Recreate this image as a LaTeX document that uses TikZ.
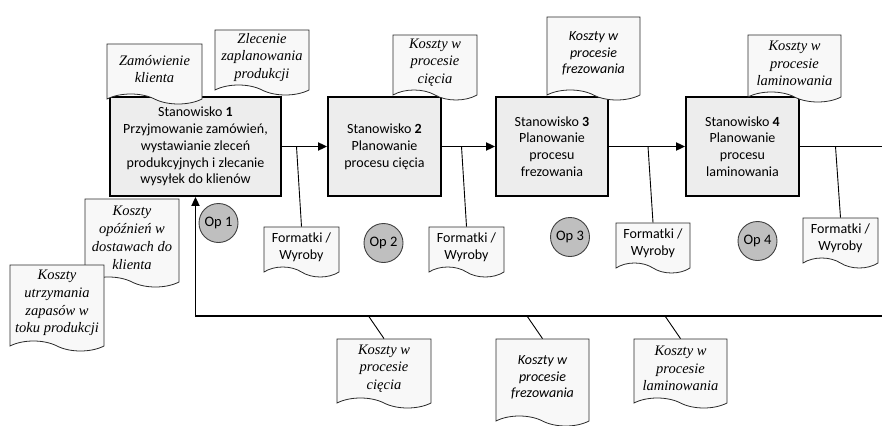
\documentclass[tikz,border=0pt]{standalone}
\usepackage{fontspec}
\setmainfont{Liberation Serif}
\newfontfamily\calfont{Carlito}
\usetikzlibrary{arrows.meta,positioning,shapes.symbols}
\definecolor{StFill}{HTML}{EDEDED}
\definecolor{DocFill}{HTML}{F8F8F8}
\definecolor{DocBorder}{HTML}{2A2A2A}
\definecolor{OpFill}{HTML}{BFBFBF}
\definecolor{OpBorder}{HTML}{404040}

\begin{document}
\begin{tikzpicture}[x=1pt,y=-1pt,
  stan/.style={draw,line width=1.8pt,fill=StFill,minimum width=113pt,
    minimum height=99pt,align=center,inner sep=2pt,
    font=\calfont\fontsize{14}{16.8}\selectfont},
  dok/.style={tape,tape bend top=none,tape bend bottom=out and in,
    tape bend height=10pt,draw=DocBorder,fill=DocFill,line width=0.8pt,
    minimum width=94pt,align=center,inner sep=1pt},
  tms/.style={font=\rmfamily\itshape\fontsize{14.5}{17.8}\selectfont},
  cal/.style={font=\calfont\fontsize{14}{16.8}\selectfont},
  calit/.style={font=\calfont\itshape\fontsize{14}{16.8}\selectfont},
  opc/.style={circle,draw=OpBorder,fill=OpFill,line width=0.9pt,
    minimum size=39pt,inner sep=0pt,font=\calfont\fontsize{14.5}{16.8}\selectfont},
  arr/.style={-{Triangle[length=9pt,width=8pt]},line width=1.8pt},
  ln/.style={line width=0.9pt}
]
\useasboundingbox (0,0) rectangle (882,425);
\clip (0,0) rectangle (882,425);
% stanowiska
\node[stan,minimum width=171pt] (st1) at (195.5,146.5)
  {Stanowisko \textbf{1}\\Przyjmowanie zamówień,\\wystawianie zleceń\\produkcyjnych i zlecanie\\wysyłek do klienów};
\node[stan] (st2) at (384.5,146.5) {Stanowisko \textbf{2}\\Planowanie\\procesu cięcia};
\node[stan,minimum width=112pt] (st3) at (552,146.5) {Stanowisko \textbf{3}\\Planowanie\\procesu\\frezowania};
\node[stan] (st4) at (742.5,146.5) {Stanowisko \textbf{4}\\Planowanie\\procesu\\laminowania};
\coordinate (re) at (882,146.5);
\coordinate (fbr) at (882,316);
% przeplyw
\draw[arr] (st1.east) -- (st2.west);
\draw[arr] (st2.east) -- (st3.west);
\draw[arr] (st3.east) -- (st4.west);
\draw[line width=1.8pt] (st4.east) -- (re);
\draw[arr] (fbr) -- (st1.south |- fbr) -- (st1.south);
% formatki / wyroby
\node[dok,cal,minimum width=75pt,minimum height=50pt] (fw1) at (301.5,247) {Formatki /\\Wyroby};
\node[dok,cal,minimum width=75pt,minimum height=50pt] (fw2) at (466.5,247) {Formatki /\\Wyroby};
\node[dok,cal,minimum width=74pt,minimum height=50pt] (fw3) at (653,243) {Formatki /\\Wyroby};
\node[dok,cal,minimum width=75pt,minimum height=50pt] (fw4) at (840.5,238) {Formatki /\\Wyroby};
\foreach \i in {1,...,4}{
  \coordinate (a\i) at ([xshift=-5pt]fw\i.north |- st1.east);
  \draw[ln] (a\i) -- (fw\i.north);
}
% dokumenty nad stanowiskami
\node[dok,tms,minimum width=95pt,minimum height=60pt] (zam) at (154.5,69) {Zamówienie\\klienta};
\node[dok,tms,minimum height=65pt] (zlec) at (262,57.5) {Zlecenie\\zaplanowania\\produkcji};
\node[dok,tms,minimum width=84pt,minimum height=65pt] (kc1) at (435,62.5) {Koszty w\\procesie\\cięcia};
\node[dok,calit,minimum width=93pt,minimum height=83pt] (kf1) at (593.5,53.5) {Koszty w\\procesie\\frezowania};
\node[dok,tms,minimum width=93pt,minimum height=67pt] (kl1) at (794.5,63.5) {Koszty w\\procesie\\laminowania};
% koszty po lewej
\node[dok,tms,minimum height=88pt] (opo) at (132,238) {Koszty\\opóźnień w\\dostawach do\\klienta};
\node[dok,tms,minimum height=86pt] (zap) at (57,303) {Koszty\\utrzymania\\zapasów w\\toku produkcji};
% koszty na dole
\node[dok,tms,minimum height=69pt] (kc2) at (384,368.5) {Koszty w\\procesie\\cięcia};
\node[dok,calit,minimum width=93pt,minimum height=87pt] (kf2) at (542.5,377.5) {Koszty w\\procesie\\frezowania};
\node[dok,tms,minimum width=93pt,minimum height=69pt] (kl2) at (680.5,368.5) {Koszty w\\procesie\\laminowania};
\foreach \n in {kc2,kf2,kl2}{
  \coordinate (b\n) at ([xshift=-15.5pt]\n.north |- fbr);
  \draw[ln] (b\n) -- (\n.north);
}
% operacje
\node[opc] (op1) at (218.5,223) {Op 1};
\node[opc] (op2) at (383.5,243) {Op 2};
\node[opc] (op3) at (570,237) {Op 3};
\node[opc] (op4) at (757.5,241) {Op 4};
\end{tikzpicture}
\end{document}
